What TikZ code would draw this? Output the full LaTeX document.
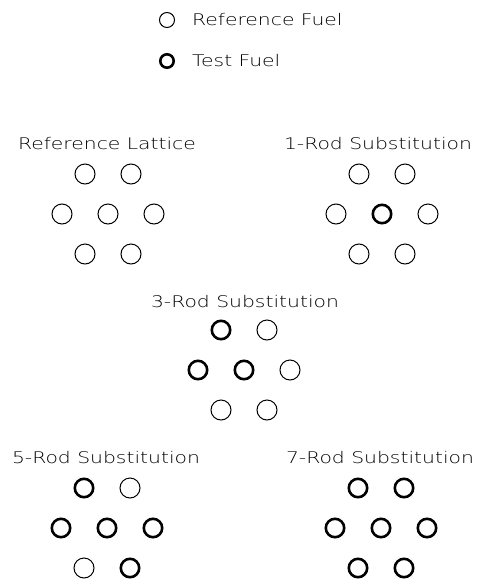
\documentclass[tikz,border=0pt]{standalone}
\usepackage{fontspec}
\IfFontExistsTF{DejaVu Sans ExtraLight}
  {\setmainfont{DejaVu Sans ExtraLight}[FakeStretch=1.27]}
  {\setmainfont{DejaVu Sans}[FakeStretch=1.27]}
\newcommand\mylattice[9]{%
  \begin{scope}[shift={#2}]
    \node[#3] (#1-tl) at (-23,-40) {};
    \node[#4] (#1-tr) at (23,-40) {};
    \node[#5] (#1-ml) at (-46,0) {};
    \node[#6] (#1-mc) at (0,0) {};
    \node[#7] (#1-mr) at (46,0) {};
    \node[#8] (#1-bl) at (-23,40) {};
    \node[#9] (#1-br) at (23,40) {};
  \end{scope}}
\begin{document}
\begin{tikzpicture}[x=1pt,y=-1pt,
  fuel/.style={circle,draw,line width=1pt,minimum size=20pt,inner sep=0pt},
  test/.style={circle,draw,line width=2.6pt,minimum size=18.4pt,inner sep=0pt},
  lfuel/.style={circle,draw,line width=1pt,minimum size=15pt,inner sep=0pt},
  ltest/.style={circle,draw,line width=2.6pt,minimum size=13.4pt,inner sep=0pt},
  title/.style={font=\fontsize{16}{16}\selectfont,inner sep=0pt},
]
\useasboundingbox (0,0) rectangle (480,582);
% legend
\node[lfuel] (lref) at (167,20) {};
\node[title,anchor=west] (lreft) at (192,20) {Reference Fuel};
\node[ltest] (ltst) at (167,61) {};
\node[title,anchor=west] (ltstt) at (192,61) {Test Fuel};
% titles
\node[title] (t0) at (107,144) {Reference Lattice};
\node[title] (t1) at (378,144) {1-Rod Substitution};
\node[title] (t3) at (245,302) {3-Rod Substitution};
\node[title] (t5) at (106,458) {5-Rod Substitution};
\node[title] (t7) at (380,458) {7-Rod Substitution};
% lattices
\mylattice{r0}{(108,214)}{fuel}{fuel}{fuel}{fuel}{fuel}{fuel}{fuel}
\mylattice{r1}{(382,214)}{fuel}{fuel}{fuel}{test}{fuel}{fuel}{fuel}
\mylattice{r3}{(244,370)}{test}{fuel}{test}{test}{fuel}{fuel}{fuel}
\mylattice{r5}{(107,528)}{test}{fuel}{test}{test}{test}{fuel}{test}
\mylattice{r7}{(381,528)}{test}{test}{test}{test}{test}{test}{test}
\end{tikzpicture}
\end{document}
